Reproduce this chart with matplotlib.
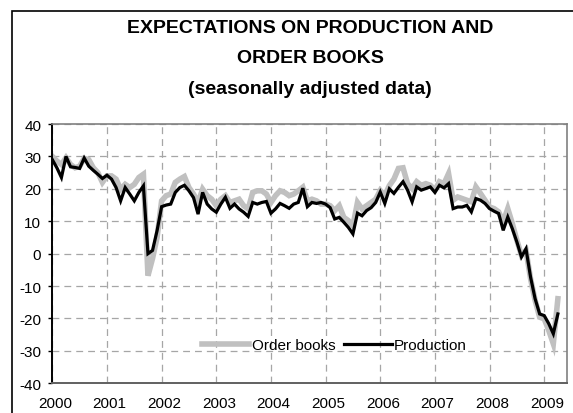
import numpy as np
import matplotlib
matplotlib.use("Agg")
import matplotlib.pyplot as plt
from matplotlib.patches import Rectangle

plt.rcParams["font.family"] = ["Liberation Sans", "DejaVu Sans"]
plt.rcParams["axes.unicode_minus"] = False

# monthly data, Jan 2000 - Apr 2009
order_books = [30, 28.6, 27.5, 29.6, 27.5, 26.5, 27, 29.4, 29, 26.5, 25, 22,
               24, 24, 23, 19.9, 21.4, 20.4, 21.4, 23.5, 24.5, -6.8, -1.5, 5,
               16.3, 17.9, 18.4, 22, 23, 23.8, 20.4, 18.4, 15.8, 19.9, 17.9, 16.8,
               14.8, 16.8, 17.9, 15.8, 16.3, 16.8, 14.8, 13.8, 18.9, 19.4, 19.4, 18.4,
               15.8, 17.9, 19.4, 18.9, 17.9, 18.4, 19.4, 20.5, 16.3, 16.8, 16.3, 15.3,
               15.3, 14.8, 13.3, 14.8, 11.2, 10.2, 8.6, 15.8, 13.8, 14.8, 15.8, 16.8,
               19.5, 18, 21, 23, 26.3, 26.5, 21.6, 20.1, 22.2, 21.1, 21.6, 21.1,
               19.6, 22.2, 21.6, 24.7, 16.5, 17.5, 17, 16.5, 16, 20.6, 18.6, 16.5,
               14.4, 13.9, 12.9, 9.8, 13.9, 9.3, 4.1, -0.5, 1, -7.7, -14.4, -19.6,
               -20.1, -23.7, -27.8, -13.9]
production = [29, 26.5, 23.5, 30, 26.8, 26.6, 26.3, 29.5, 27, 25.7, 24.5, 23.2,
              24.2, 23, 20.4, 16.3, 20.4, 18.4, 16.3, 18.9, 20.9, 0, 1, 7.1,
              14.5, 15, 15.3, 18.9, 20.4, 21.1, 19.4, 17.3, 12.2, 18.9, 15.3, 13.8,
              12.8, 15.3, 17.4, 14, 15.3, 13.8, 12.8, 11.5, 15.8, 15.3, 15.8, 16.1,
              12.5, 13.8, 15.5, 14.8, 14.0, 15.3, 15.8, 20.2, 14.5, 15.8, 15.5, 15.8,
              15.3, 14.2, 10.7, 11.2, 9.7, 8.1, 6.1, 12.5, 11.7, 13.3, 14.2, 15.8,
              19, 15.5, 20, 18.6, 20.5, 22.2, 19.6, 16, 20.6, 19.6, 20.1, 20.6,
              18.9, 21.1, 20.3, 21.6, 13.9, 14.4, 14.4, 14.9, 12.9, 17, 16.5, 15.5,
              13.9, 13.1, 12.4, 7.2, 11.3, 7.7, 3.6, -1, 1.5, -7.2, -13.9, -18.6,
              -19.1, -21.6, -24.7, -18.6]
years = ["2000", "2001", "2002", "2003", "2004", "2005", "2006", "2007", "2008", "2009"]

months = np.arange(len(production))

fig = plt.figure(figsize=(5.73, 4.14), dpi=100)
ax = fig.add_axes([0.0913, 0.0717, 0.8982, 0.6263])

# outer chart border (cut off at right and bottom)
fig.patches.append(Rectangle((0.0204, -0.1), 1.2, 1.071, transform=fig.transFigure,
                             fill=False, edgecolor="black", linewidth=1.2))

ax.plot(months, order_books, color="#c0c0c0", linewidth=4, label="Order books",
        solid_joinstyle="miter")
ax.plot(months, production, color="black", linewidth=2.3, label="Production",
        solid_joinstyle="miter")

ax.set_xlim(0, 113)
ax.set_ylim(-40, 40)
ax.set_yticks(np.arange(-40, 41, 10))
ax.set_xticks(np.arange(0, 109, 12), minor=False)
ax.set_xticklabels([])
ax.set_xticks(np.arange(0, 109, 12) + 0.6, minor=True)
ax.set_xticklabels(years, minor=True)
ax.tick_params(axis="x", which="both", length=0)
ax.tick_params(axis="x", which="minor", labelsize=11, pad=9)
ax.tick_params(axis="y", length=3, width=1, labelsize=11, pad=5, direction="out")

ax.grid(True, which="major", color="#a6a6a6", linestyle=(0, (5.5, 4)), linewidth=0.9)
ax.set_axisbelow(True)

ax.spines["left"].set_color("black")
ax.spines["left"].set_linewidth(1.4)
ax.spines["bottom"].set_color("#606060")
ax.spines["bottom"].set_linewidth(1.4)
ax.spines["top"].set_color("#808080")
ax.spines["right"].set_color("#808080")
ax.spines["top"].set_linewidth(1.2)
ax.spines["right"].set_linewidth(1.2)

ax.legend(loc="center", bbox_to_anchor=(0.548, 0.148), ncol=2, frameon=False,
          fontsize=11, handlelength=3.1, handletextpad=0.15, columnspacing=0.6)

fig.text(0.541, 0.932, "EXPECTATIONS ON PRODUCTION AND", ha="center", va="center",
         fontsize=14, fontweight="bold")
fig.text(0.541, 0.858, "ORDER BOOKS", ha="center", va="center",
         fontsize=14, fontweight="bold")
fig.text(0.541, 0.785, "(seasonally adjusted data)", ha="center", va="center",
         fontsize=14, fontweight="bold")

plt.savefig("out.png", dpi=100)
